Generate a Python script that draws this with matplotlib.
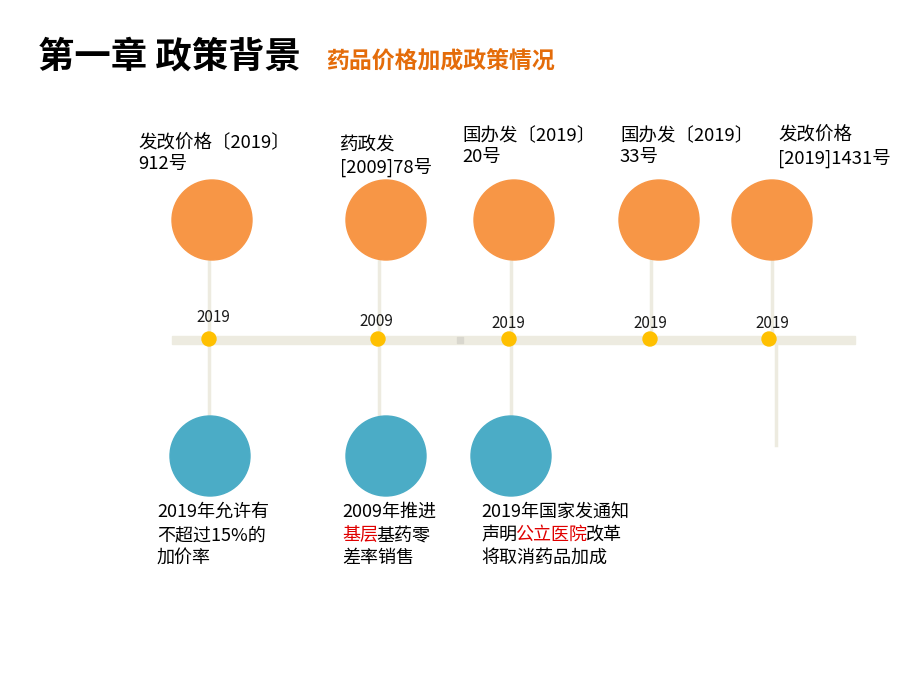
import matplotlib
matplotlib.use('Agg')
import matplotlib.pyplot as plt
from matplotlib.patches import Circle, Rectangle

plt.rcParams['font.family'] = ['Noto Sans CJK SC', 'DejaVu Sans']

# 数据
title = '第一章 政策背景'
subtitle = '药品价格加成政策情况'
years = ['2019', '2009', '2019', '2019', '2019']
doc_labels = ['发改价格〔2019〕\n912号',
              '药政发\n[2009]78号',
              '国办发〔2019〕\n20号',
              '国办发〔2019〕\n33号',
              '发改价格\n[2019]1431号']
# *...* 表示红色文字
descriptions = ['2019年允许有\n不超过15%的\n加价率',
                '2009年推进\n*基层*基药零\n差率销售',
                '2019年国家发通知\n声明*公立医院*改革\n将取消药品加成']

# 版面位置（像素）
node_x = [209, 378, 509, 650, 769]
top_circle_x = [212, 386, 514, 659, 772]
bot_circle_x = [210, 386, 511]
line_x = [209, 379, 511, 651, 772]
label_pos = [(138, 134), (340, 136), (462, 127), (620, 127), (778, 127)]
year_pos = [(213, 318), (376, 322), (508, 324), (650, 324), (772, 323)]
desc_x = [157, 342, 481]

orange = '#F79646'
teal = '#4BACC6'
yellow = '#FFC000'
beige = '#EDEBE0'

fig = plt.figure(figsize=(9.2, 6.9), dpi=100)
ax = fig.add_axes([0, 0, 1, 1])
ax.set_xlim(0, 920)
ax.set_ylim(690, 0)
ax.axis('off')
renderer = fig.canvas.get_renderer()

# 标题
ax.text(38, 57, title, fontsize=26.2, fontweight='bold', color='black', va='center', ha='left')
ax.text(326, 62, subtitle, fontsize=16.5, fontweight='bold', color='#E46C0A', va='center', ha='left')

# 时间轴
ax.add_patch(Rectangle((172, 336), 683, 8, color=beige, zorder=1))
ax.add_patch(Rectangle((457, 337), 6, 6, color='#D9D7CE', zorder=1))

# 竖线
for i, x in enumerate(line_x):
    ax.plot([x, x], [258, 340], color=beige, lw=2.5, zorder=0)
    if i < len(bot_circle_x):
        ax.plot([x, x], [340, 418], color=beige, lw=2.5, zorder=0)
ax.plot([776, 776], [340, 445], color=beige, lw=2.5, zorder=0)

# 圆
for x in top_circle_x:
    ax.add_patch(Circle((x, 220), 40, color=orange, zorder=2))
for x in bot_circle_x:
    ax.add_patch(Circle((x, 456), 40, color=teal, zorder=2))
for x in node_x:
    ax.add_patch(Circle((x, 339), 7, color=yellow, zorder=3))

# 年份
for (x, y), yr in zip(year_pos, years):
    ax.text(x, y, yr, fontsize=11, ha='center', va='center', color='#1a1a1a')

# 文件号
for (x, y), lab in zip(label_pos, doc_labels):
    ax.text(x, y, lab, fontsize=13.3, ha='left', va='top', linespacing=1.22, color='black')

# 描述（部分红字）
for x0, desc in zip(desc_x, descriptions):
    for j, line in enumerate(desc.split('\n')):
        y = 512 + j * 23
        x = x0
        for k, part in enumerate(line.split('*')):
            if part == '':
                continue
            c = '#E00000' if k % 2 == 1 else 'black'
            t = ax.text(x, y, part, fontsize=13, color=c, ha='left', va='center')
            x += t.get_window_extent(renderer).width - 1.5

fig.savefig('out.png', dpi=100)
